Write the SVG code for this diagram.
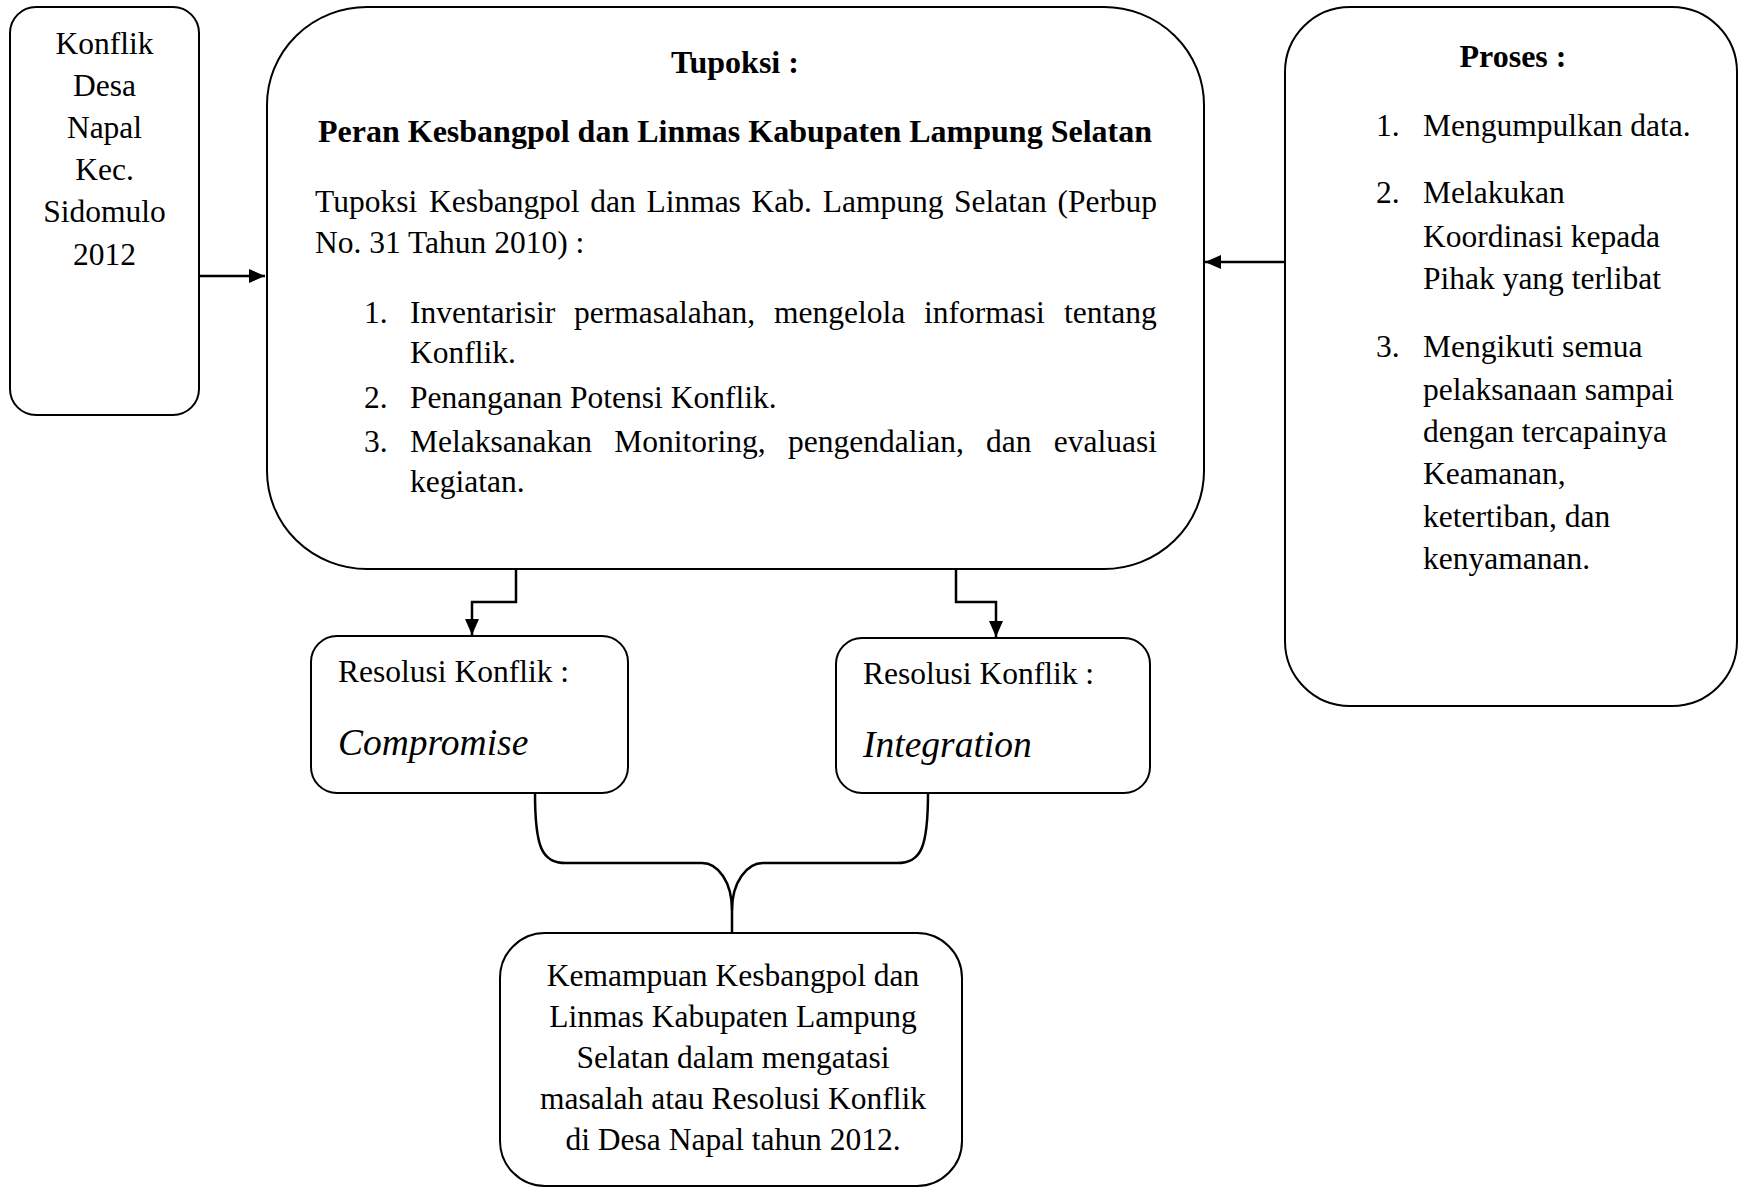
<svg xmlns="http://www.w3.org/2000/svg" width="1739" height="1189" viewBox="0 0 1739 1189">
<style>
.box{fill:#fff;stroke:#000;stroke-width:2}
.t{font-family:"Liberation Serif","Times New Roman",serif;font-size:31.5px;fill:#000}
.b{font-weight:bold;font-size:32px}
.c{text-anchor:middle}
.i{font-style:italic;font-size:37.5px}
.ln{fill:none;stroke:#000;stroke-width:2.5}
</style>
<defs>
<marker id="ah" viewBox="0 0 16 14" refX="16" refY="7" markerWidth="16" markerHeight="14" markerUnits="userSpaceOnUse" orient="auto">
<path d="M0,0 L16,7 L0,14 Z" fill="#000"/>
</marker>
</defs>
<g id="connectors">
<path class="ln" d="M200,276 L265,276" marker-end="url(#ah)"/>
<path class="ln" d="M1284,262 L1205,262" marker-end="url(#ah)"/>
<path class="ln" d="M516,569 L516,602 L472,602 L472,635" marker-end="url(#ah)"/>
<path class="ln" d="M956,569 L956,602 L996,602 L996,637" marker-end="url(#ah)"/>
<path class="ln" d="M535,793 C535,848 542,863 566,863 L702,863 C718,863 732,882 732,910 L732,932"/>
<path class="ln" d="M928,793 C928,848 921,863 897,863 L763,863 C747,863 732,882 732,910"/>
</g>
<g id="node-konflik">
<rect class="box" x="10" y="7" width="189" height="408" rx="26" ry="26"/>
<text class="t c" x="104.5" y="54">Konflik</text>
<text class="t c" x="104.5" y="96">Desa</text>
<text class="t c" x="104.5" y="138">Napal</text>
<text class="t c" x="104.5" y="180">Kec.</text>
<text class="t c" x="104.5" y="222">Sidomulo</text>
<text class="t c" x="104.5" y="265">2012</text>
</g>
<g id="node-tupoksi">
<rect class="box" x="267" y="7" width="937" height="562" rx="100" ry="98"/>
<text class="t b c" x="735" y="73">Tupoksi :</text>
<text class="t b c" x="735" y="142">Peran Kesbangpol dan Linmas Kabupaten Lampung Selatan</text>
<text class="t" y="212"><tspan x="315">Tupoksi</tspan><tspan x="429">Kesbangpol</tspan><tspan x="590.2">dan</tspan><tspan x="646.4">Linmas</tspan><tspan x="751.6">Kab.</tspan><tspan x="822.7">Lampung</tspan><tspan x="954.1">Selatan</tspan><tspan x="1057.4">(Perbup</tspan></text>
<text class="t" x="315" y="253">No. 31 Tahun 2010) :</text>
<text class="t" x="364" y="323">1.</text>
<text class="t" y="323"><tspan x="410">Inventarisir</tspan><tspan x="574">permasalahan,</tspan><tspan x="774">mengelola</tspan><tspan x="924">informasi</tspan><tspan x="1064">tentang</tspan></text>
<text class="t" x="410" y="363">Konflik.</text>
<text class="t" x="364" y="408">2.</text>
<text class="t" x="410" y="408">Penanganan Potensi Konflik.</text>
<text class="t" x="364" y="452">3.</text>
<text class="t" y="452"><tspan x="410">Melaksanakan</tspan><tspan x="614.3">Monitoring,</tspan><tspan x="788">pengendalian,</tspan><tspan x="986">dan</tspan><tspan x="1053.8">evaluasi</tspan></text>
<text class="t" x="410" y="492">kegiatan.</text>
</g>
<g id="node-proses">
<rect class="box" x="1285" y="7" width="452" height="699" rx="65" ry="65"/>
<text class="t b c" x="1513" y="67">Proses :</text>
<text class="t" x="1376" y="136">1.</text>
<text class="t" x="1423" y="136">Mengumpulkan data.</text>
<text class="t" x="1376" y="203">2.</text>
<text class="t" x="1423" y="203">Melakukan</text>
<text class="t" x="1423" y="247">Koordinasi kepada</text>
<text class="t" x="1423" y="289">Pihak yang terlibat</text>
<text class="t" x="1376" y="357">3.</text>
<text class="t" x="1423" y="357">Mengikuti semua</text>
<text class="t" x="1423" y="400">pelaksanaan sampai</text>
<text class="t" x="1423" y="442">dengan tercapainya</text>
<text class="t" x="1423" y="484">Keamanan,</text>
<text class="t" x="1423" y="527">ketertiban, dan</text>
<text class="t" x="1423" y="569">kenyamanan.</text>
</g>
<g id="node-compromise">
<rect class="box" x="311" y="636" width="317" height="157" rx="26" ry="26"/>
<text class="t" x="338" y="682">Resolusi Konflik :</text>
<text class="t i" x="338" y="755">Compromise</text>
</g>
<g id="node-integration">
<rect class="box" x="836" y="638" width="314" height="155" rx="26" ry="26"/>
<text class="t" x="863" y="684">Resolusi Konflik :</text>
<text class="t i" x="863" y="757">Integration</text>
</g>
<g id="node-kemampuan">
<rect class="box" x="500" y="933" width="462" height="253" rx="45" ry="45"/>
<text class="t c" x="733" y="986">Kemampuan Kesbangpol dan</text>
<text class="t c" x="733" y="1027">Linmas Kabupaten Lampung</text>
<text class="t c" x="733" y="1068">Selatan dalam mengatasi</text>
<text class="t c" x="733" y="1109">masalah atau Resolusi Konflik</text>
<text class="t c" x="733" y="1150">di Desa Napal tahun 2012.</text>
</g>
</svg>
